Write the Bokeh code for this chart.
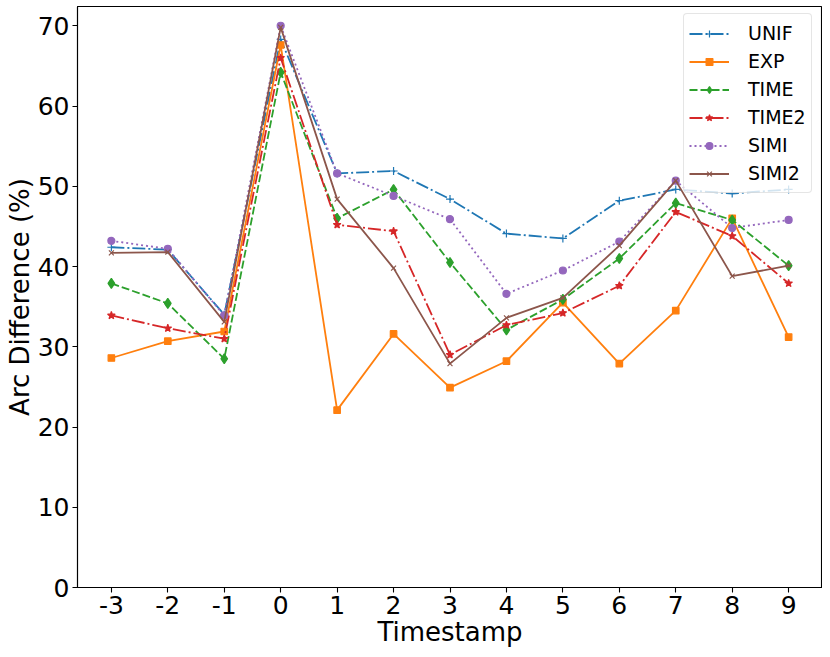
from bokeh.plotting import figure
from bokeh.models import Range1d, Legend, LegendItem, FixedTicker
from bokeh.embed import file_html
from bokeh.resources import INLINE

timestamps = [-3, -2, -1, 0, 1, 2, 3, 4, 5, 6, 7, 8, 9]
unif = [42.4, 42.1, 34.0, 68.3, 51.6, 51.9, 48.4, 44.1, 43.5, 48.2, 49.6, 49.1, 49.6]
exp_ = [28.6, 30.7, 31.9, 67.6, 22.1, 31.6, 24.9, 28.2, 35.5, 27.9, 34.5, 46.0, 31.2]
time_ = [37.9, 35.4, 28.5, 64.2, 46.0, 49.6, 40.5, 32.1, 35.9, 41.0, 47.9, 45.8, 40.1]
time2 = [33.9, 32.3, 31.0, 66.0, 45.2, 44.4, 29.0, 32.7, 34.2, 37.6, 46.8, 43.8, 37.9]
simi = [43.2, 42.2, 33.9, 70.0, 51.6, 48.8, 45.9, 36.6, 39.5, 43.1, 50.7, 44.8, 45.8]
simi2 = [41.7, 41.8, 33.1, 69.8, 48.4, 39.8, 27.9, 33.6, 36.1, 42.6, 50.7, 38.8, 40.1]
y_ticks = [0, 10, 20, 30, 40, 50, 60, 70]
x_tick_labels = ["-3", "-2", "-1", "0", "1", "2", "3", "4", "5", "6", "7", "8", "9"]

FONT = "DejaVu Sans"

p = figure(width=822, height=649, output_backend="svg", toolbar_location=None,
           x_range=Range1d(-3.6, 9.6), y_range=Range1d(0, 72.4),
           min_border_left=77, min_border_right=0, min_border_top=6, min_border_bottom=61)

p.xgrid.visible = False
p.ygrid.visible = False
p.outline_line_color = "black"
p.outline_line_width = 1.1
p.outline_line_alpha = 1

for ax in (p.xaxis[0], p.yaxis[0]):
    ax.axis_line_color = "black"
    ax.axis_line_width = 1.1
    ax.major_tick_line_color = "black"
    ax.major_tick_line_width = 1.1
    ax.major_tick_out = 5
    ax.major_tick_in = 0
    ax.minor_tick_line_color = None
    ax.major_label_text_font = FONT
    ax.major_label_text_font_size = "25px"
    ax.major_label_text_color = "black"
    ax.axis_label_text_font = FONT
    ax.axis_label_text_font_size = "26px"
    ax.axis_label_text_font_style = "normal"
    ax.axis_label_text_color = "black"

p.xaxis.ticker = FixedTicker(ticks=timestamps)
p.xaxis.major_label_overrides = {t: lab for t, lab in zip(timestamps, x_tick_labels)}
p.yaxis.ticker = FixedTicker(ticks=y_ticks)
p.xaxis.axis_label = "Timestamp"
p.yaxis.axis_label = "Arc Difference (%)"
p.xaxis.major_label_standoff = 3
p.yaxis.major_label_standoff = 3
p.xaxis.axis_label_standoff = 0
p.yaxis.axis_label_standoff = 0

series = [
    ("UNIF", unif, "#1f77b4", "13 3 2 3", "cross", 8),
    ("EXP", exp_, "#ff7f0e", "solid", "square", 6.5),
    ("TIME", time_, "#2ca02c", "8 3", "diamond", 10),
    ("TIME2", time2, "#d62728", "13 3 2 3", "star", 8),
    ("SIMI", simi, "#9467bd", "2 3", "circle", 7),
    ("SIMI2", simi2, "#8c564b", "solid", "x", 7),
]

items = []
for name, vals, color, dash, marker, size in series:
    ln = p.line(timestamps, vals, line_color=color, line_width=1.8, line_dash=dash)
    sc = p.scatter(timestamps, vals, marker=marker, size=size, fill_color=color,
                   line_color=color, line_width=1.2)
    items.append(LegendItem(label=name, renderers=[ln, sc]))

legend = Legend(items=items, location=(606, 394), orientation="vertical",
                label_text_font=FONT, label_text_font_size="19px",
                label_text_color="black",
                glyph_width=40, glyph_height=17, label_height=28,
                label_standoff=19, spacing=0, padding=5, margin=0,
                border_line_color="#cccccc", border_line_width=1,
                border_radius=4,
                background_fill_color="white", background_fill_alpha=0.8)
p.add_layout(legend, "center")

open("out.html", "w").write(file_html(p, INLINE))
